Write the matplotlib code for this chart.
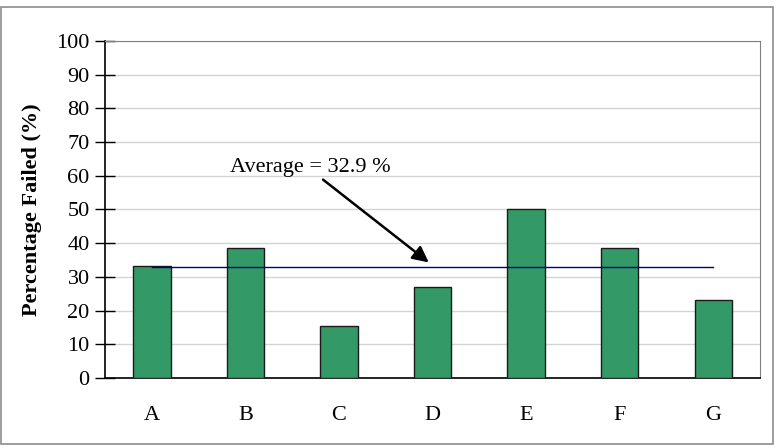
import matplotlib.pyplot as plt
from matplotlib.patches import Rectangle

plt.rcParams['font.family'] = ['Liberation Serif', 'DejaVu Serif']

groups = ['A', 'B', 'C', 'D', 'E', 'F', 'G']
failed = [33.3, 38.5, 15.4, 26.9, 50.0, 38.5, 23.1]
average = 32.9
yticks = list(range(0, 101, 10))

fig = plt.figure(figsize=(7.76, 4.48), dpi=100, facecolor='white')
ax = fig.add_axes([105/776, 70/448, 655/776, 337/448])

x = list(range(len(groups)))
ax.bar(x, failed, width=0.4, color='#339966', edgecolor='#1a1a1a', linewidth=1.0, zorder=3)
ax.plot([x[0], x[-1]], [average, average], color='#000080', linewidth=1.0, zorder=4)

ax.set_xlim(-0.5, len(groups) - 0.5)
ax.set_ylim(0, 100)
ax.set_yticks(yticks)
ax.set_xticks(x)
ax.set_xticklabels(groups, fontsize=16)
ax.tick_params(axis='x', length=0, pad=20)
ax.tick_params(axis='y', direction='inout', length=14, width=1, labelsize=16, pad=4)
ax.yaxis.grid(True, color='#d4d4d4', linewidth=1, zorder=0)
ax.set_axisbelow(True)

for s in ['top', 'right']:
    ax.spines[s].set_color('#808080')
for s in ['left', 'bottom']:
    ax.spines[s].set_color('black')
    ax.spines[s].set_linewidth(1.2)

ax.set_ylabel('Percentage Failed (%)', fontsize=16, fontweight='bold', labelpad=10)

ax.annotate('Average = 32.9 %', xy=(2.96, 34.3), xytext=(0.84, 62.5),
            fontsize=16, ha='left', va='center',
            arrowprops=dict(arrowstyle='-|>', color='black', lw=1.8,
                            mutation_scale=24, shrinkA=0, shrinkB=0,
                            relpos=(0.57, -0.1)))

fig.patches.append(Rectangle((0.5/776, 4/448), 772/776, 437/448, transform=fig.transFigure,
                             fill=False, edgecolor='#8c8c8c', linewidth=1.2))

fig.savefig('out.png', dpi=100, facecolor='white')
